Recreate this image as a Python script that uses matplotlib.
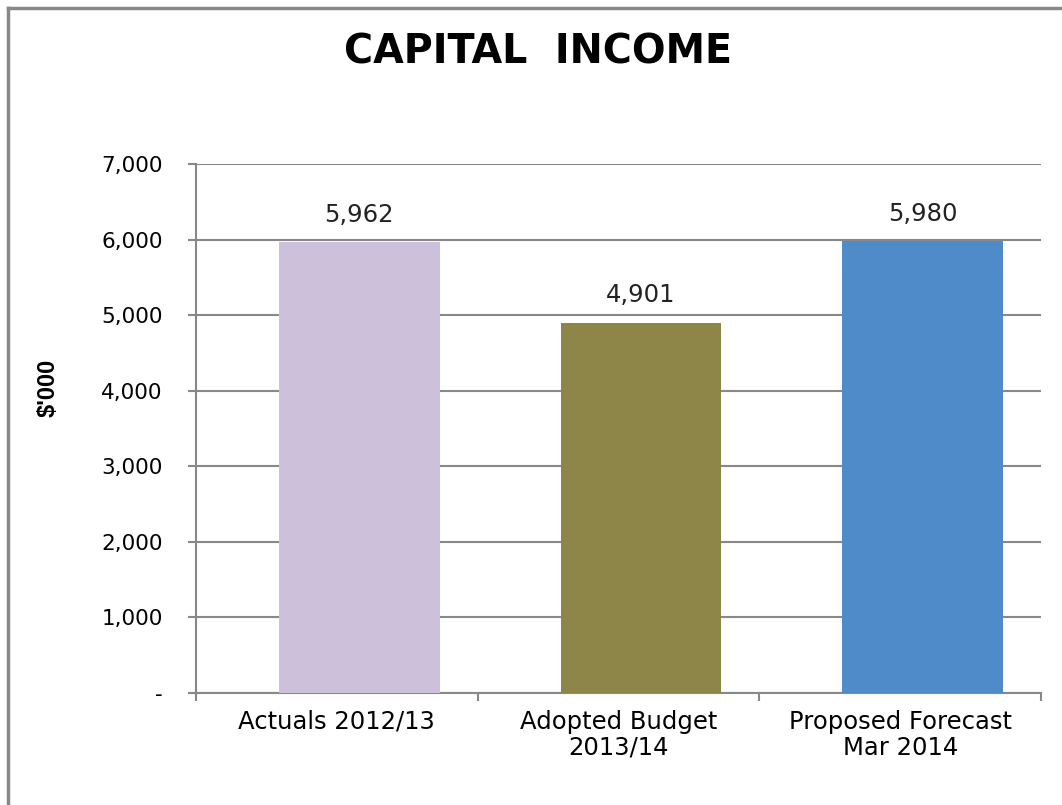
import matplotlib
matplotlib.use("Agg")
import matplotlib.pyplot as plt
from matplotlib.lines import Line2D

categories = ["Actuals 2012/13", "Adopted Budget\n2013/14", "Proposed Forecast\nMar 2014"]
values = [5962, 4901, 5980]
colors = ["#CCC0DA", "#8E8549", "#4F8AC9"]
yticks = [0, 1000, 2000, 3000, 4000, 5000, 6000, 7000]


def fmt(v):
    return "-" if v == 0 else f"{v:,}"


def main():
    fig = plt.figure(figsize=(10.62, 8.05), dpi=100)
    ax = fig.add_axes([196 / 1062, 1 - 693 / 805, 845 / 1062, 529 / 805])

    x = list(range(len(categories)))
    bar_x = [i + 0.08 for i in x]
    ax.bar(bar_x, values, width=0.57, color=colors, zorder=3)

    for bx, v in zip(bar_x, values):
        ax.annotate(f"{v:,}", (bx, v), xytext=(0, 11), textcoords="offset points",
                    ha="center", va="bottom", fontsize=17.5, family="DejaVu Sans",
                    color="#222222")

    ax.set_xlim(-0.5, 2.5)
    ax.set_ylim(0, 7000)
    ax.set_yticks(yticks)
    ax.set_yticklabels([fmt(v) for v in yticks], fontsize=15.5, family="DejaVu Sans")
    ax.set_xticks(x)
    ax.set_xticklabels(categories, fontsize=17.5, family="DejaVu Sans", linespacing=1.1)
    ax.set_xticks([-0.5, 0.5, 1.5, 2.5], minor=True)
    ax.tick_params(axis="x", which="major", length=0, pad=12)
    ax.tick_params(axis="x", which="minor", length=5.5, color="#888888", width=1.5)
    ax.tick_params(axis="y", length=6, color="#888888", width=1.5, pad=18)

    ax.grid(axis="y", color="#888888", linewidth=1.5, zorder=0)
    ax.set_axisbelow(True)
    for s in ["top", "right"]:
        ax.spines[s].set_visible(False)
    for s in ["left", "bottom"]:
        ax.spines[s].set_color("#888888")
        ax.spines[s].set_linewidth(1.5)

    ax.set_ylabel("$'000", fontsize=17, fontweight="bold", family="Liberation Sans")
    ax.yaxis.set_label_coords(-0.161, 0.577)

    fig.text(538 / 1062, 1 - 52 / 805, "CAPITAL  INCOME", ha="center", va="center",
             fontsize=28.5, fontweight="bold", family="DejaVu Sans")

    # outer frame (left and top only visible)
    fig.add_artist(Line2D([7.5 / 1062, 7.5 / 1062], [0, 1 - 8 / 805], color="#888888", linewidth=2.5,
                          transform=fig.transFigure))
    fig.add_artist(Line2D([7.5 / 1062, 1], [1 - 8 / 805, 1 - 8 / 805], color="#888888", linewidth=2.5,
                          transform=fig.transFigure))

    fig.savefig("out.png", dpi=100)


if __name__ == "__main__":
    main()
